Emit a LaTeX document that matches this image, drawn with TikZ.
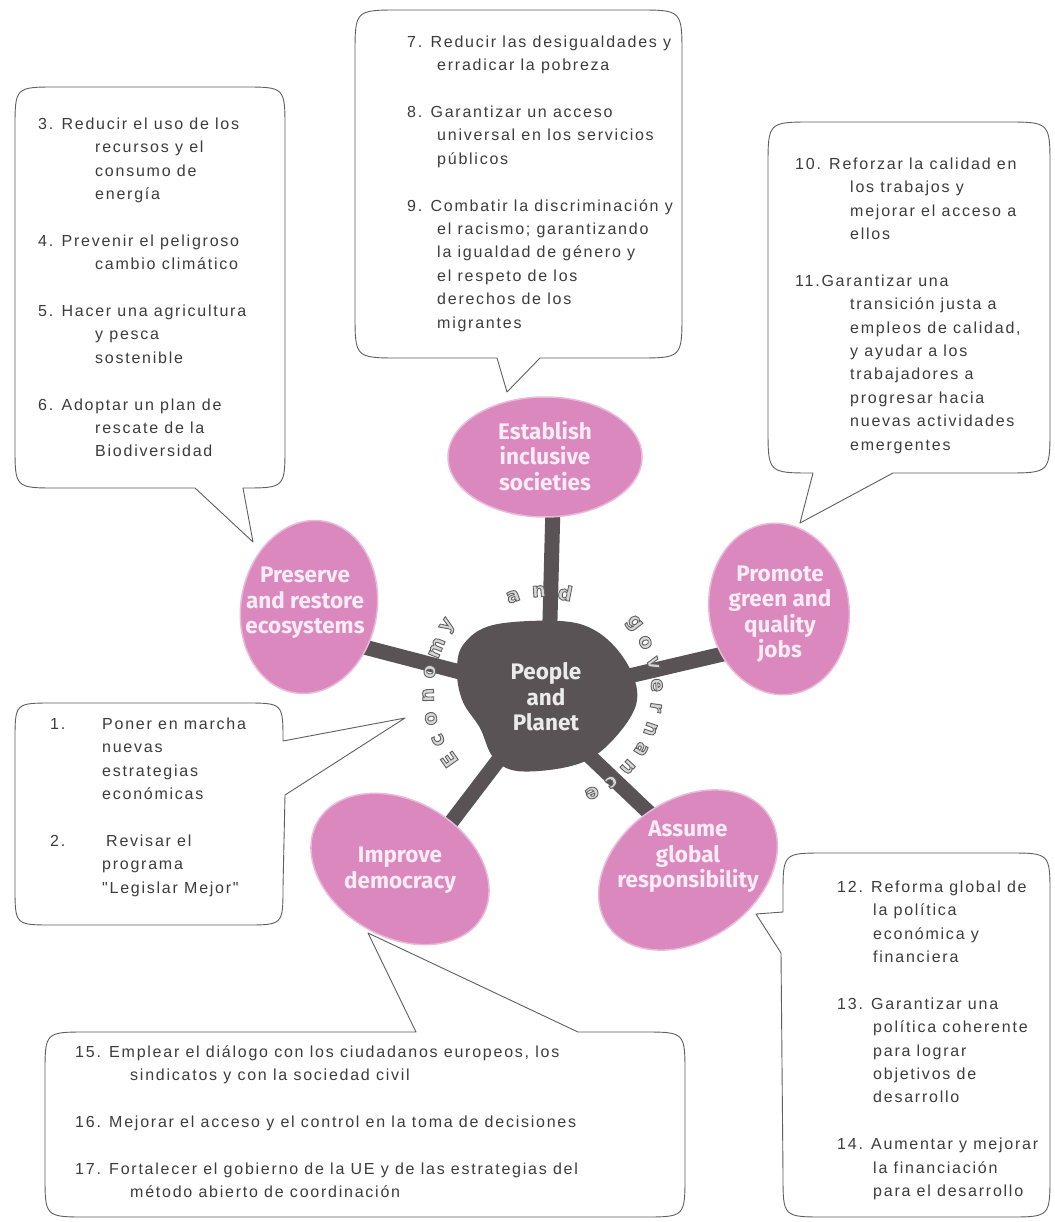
\documentclass[tikz,border=0pt]{standalone}
\usepackage{fontspec}
\setmainfont{Liberation Sans}
\newfontfamily\bubfont{Liberation Sans}[LetterSpace=11]
\newfontfamily\ellfont{Fira Sans}
\newfontfamily\arcfont{DejaVu Sans}
\usetikzlibrary{shapes.geometric,calc}

\definecolor{ellpink}{RGB}{218,136,190}
\definecolor{ellrim}{RGB}{234,184,216}
\definecolor{blobgray}{RGB}{90,83,85}
\definecolor{elltxt}{RGB}{250,236,245}
\definecolor{bubline}{RGB}{95,95,95}
\definecolor{bubtxt}{RGB}{60,60,60}
\definecolor{arcfill}{RGB}{215,215,215}

\newcommand\arcstyle{\arcfont\bfseries\fontsize{20}{24}\selectfont}
\newcommand\outlined[1]{\special{pdf:literal direct 2 Tr 0.9 w 0.38 0.38 0.38 RG}#1\special{pdf:literal direct 0 Tr}}

\tikzset{
  bubble/.style={draw=bubline, line width=0.9pt, fill=white, line join=round},
  bubtext/.style={anchor=north west, inner sep=0pt, align=left, text=bubtxt,
    font=\bubfont\fontsize{16}{23.4}\selectfont},
  ellshape/.style={ellipse, fill=ellpink, draw=ellrim, line width=1.5pt, inner sep=0pt},
  elltext/.style={text=elltxt, font=\ellfont\bfseries\fontsize{22.5}{25.5}\selectfont,
    align=center, inner sep=0pt},
  ray/.style={draw=blobgray, line width=15pt},
  arcletter/.style={inner sep=0pt, text=arcfill, font=\arcstyle},
}

\begin{document}
\begin{tikzpicture}[x=1pt,y=-1pt]
\useasboundingbox (0,0) rectangle (1054,1222);
\fill[white] (0,0) rectangle (1054,1222);

% ---------------- callout bubbles ----------------
% A : items 3-6
\draw[bubble] (285,129) -- (285,446) .. controls (285,488) .. (243,488)
  -- (253,542) -- (195,488) -- (57,488) .. controls (15,488) .. (15,446)
  -- (15,129) .. controls (15,87) .. (57,87) -- (243,87) .. controls (285,87) .. (285,129) -- cycle;
% B : items 7-9
\draw[bubble] (682,55) -- (682,313) .. controls (682,358) .. (637,358)
  -- (540,358) -- (507,392) -- (497,358) -- (400,358) .. controls (355,358) .. (355,313)
  -- (355,55) .. controls (355,10) .. (400,10) -- (637,10) .. controls (682,10) .. (682,55) -- cycle;
% C : items 10-11
\draw[bubble] (1050,167) -- (1050,428) .. controls (1050,473) .. (1005,473)
  -- (893,473) -- (800,523) -- (813,473) .. controls (768,473) .. (768,428)
  -- (768,167) .. controls (768,122) .. (813,122) -- (1005,122) .. controls (1050,122) .. (1050,167) -- cycle;
% D : items 1-2
\draw[bubble] (53,703) -- (245,703) .. controls (283,703) .. (283,741)
  -- (405,718) -- (285,795) -- (283,887) .. controls (283,925) .. (245,925)
  -- (53,925) .. controls (15,925) .. (15,887) -- (15,741) .. controls (15,703) .. (53,703) -- cycle;
% E : items 12-14
\draw[bubble] (825,853) -- (1008,853) .. controls (1050,853) .. (1050,895)
  -- (1050,1175) .. controls (1050,1217) .. (1008,1217) -- (825,1217) .. controls (783,1217) .. (783,1175)
  -- (781,953) -- (756,914) -- (783,912) -- (783,895) .. controls (783,853) .. (825,853) -- cycle;
% F : items 15-17
\draw[bubble] (87,1032) -- (416,1032) -- (368,933) -- (578,1032) -- (643,1032) .. controls (685,1032) .. (685,1074)
  -- (685,1175) .. controls (685,1217) .. (643,1217) -- (87,1217) .. controls (45,1217) .. (45,1175)
  -- (45,1074) .. controls (45,1032) .. (87,1032) -- cycle;

% ---------------- bubble texts ----------------
\node[bubtext] (tA) at (38,117.5) {3. Reducir el uso de los\\
\hspace*{57pt}recursos y el\\
\hspace*{57pt}consumo de\\
\hspace*{57pt}energía\\[23.4pt]
4. Prevenir el peligroso\\
\hspace*{57pt}cambio climático\\[23.4pt]
5. Hacer una agricultura\\
\hspace*{57pt}y pesca\\
\hspace*{57pt}sostenible\\[23.4pt]
6. Adoptar un plan de\\
\hspace*{57pt}rescate de la\\
\hspace*{57pt}Biodiversidad};

\node[bubtext] (tB) at (407,35.5) {7. Reducir las desigualdades y\\
\hspace*{30pt}erradicar la pobreza\\[23.4pt]
8. Garantizar un acceso\\
\hspace*{30pt}universal en los servicios\\
\hspace*{30pt}públicos\\[23.4pt]
9. Combatir la discriminación y\\
\hspace*{30pt}el racismo; garantizando\\
\hspace*{30pt}la igualdad de género y\\
\hspace*{30pt}el respeto de los\\
\hspace*{30pt}derechos de los\\
\hspace*{30pt}migrantes};

\node[bubtext] (tC) at (795,157.5) {10. Reforzar la calidad en\\
\hspace*{55pt}los trabajos y\\
\hspace*{55pt}mejorar el acceso a\\
\hspace*{55pt}ellos\\[23.4pt]
11.Garantizar una\\
\hspace*{55pt}transición justa a\\
\hspace*{55pt}empleos de calidad,\\
\hspace*{55pt}y ayudar a los\\
\hspace*{55pt}trabajadores a\\
\hspace*{55pt}progresar hacia\\
\hspace*{55pt}nuevas actividades\\
\hspace*{55pt}emergentes};

\node[bubtext] (tD) at (50,717.5) {\makebox[52pt][l]{1.}Poner en marcha\\
\hspace*{52pt}nuevas\\
\hspace*{52pt}estrategias\\
\hspace*{52pt}económicas\\[23.4pt]
\makebox[56pt][l]{2.}Revisar el\\
\hspace*{52pt}programa\\
\hspace*{52pt}"Legislar Mejor"};

\node[bubtext] (tE) at (837,880.5) {12. Reforma global de\\
\hspace*{36pt}la política\\
\hspace*{36pt}económica y\\
\hspace*{36pt}financiera\\[23.4pt]
13. Garantizar una\\
\hspace*{36pt}política coherente\\
\hspace*{36pt}para lograr\\
\hspace*{36pt}objetivos de\\
\hspace*{36pt}desarrollo\\[23.4pt]
14. Aumentar y mejorar\\
\hspace*{36pt}la financiación\\
\hspace*{36pt}para el desarrollo};

\node[bubtext] (tF) at (75,1045.5) {15. Emplear el diálogo con los ciudadanos europeos, los\\
\hspace*{55pt}sindicatos y con la sociedad civil\\[23.4pt]
16. Mejorar el acceso y el control en la toma de decisiones\\[23.4pt]
17. Fortalecer el gobierno de la UE y de las estrategias del\\
\hspace*{55pt}método abierto de coordinación};

% ---------------- rays ----------------
\coordinate (hub) at (548,695);
\coordinate (hubB) at (560,728);
\coordinate (est-r) at (553,505);
\coordinate (pre-r) at (345,642);
\coordinate (pro-r) at (740,650);
\coordinate (imp-r) at (436,842);
\coordinate (ass-r) at (662,825);
\draw[ray] (est-r) -- (hub);
\draw[ray] (pre-r) -- (hub);
\draw[ray] (pro-r) -- (hub);
\draw[ray] (imp-r) -- (hub);
\draw[ray] (ass-r) -- (hubB);

% ---------------- central blob ----------------
\fill[blobgray] plot[smooth cycle, tension=0.6] coordinates {(457,673) (463,645) (493,625) (560,621) (596,631) (623,657) (637,690) (630,718) (600,752) (567,767) (517,771) (493,757) (480,728) (463,702)};

% ---------------- ellipses ----------------
\node[ellshape, minimum width=194pt, minimum height=120pt] (est) at (545,457) {};
\node[ellshape, minimum width=136pt, minimum height=174pt, rotate=-10] (pre) at (309,607) {};
\node[ellshape, minimum width=140pt, minimum height=172pt, rotate=8] (pro) at (779,609) {};
\node[ellshape, minimum width=190pt, minimum height=136pt, rotate=-30] (imp) at (400,869) {};
\node[ellshape, minimum width=195pt, minimum height=140pt, rotate=35] (ass) at (688,870) {};

\node[elltext] (est-t) at (545,456) {Establish\\inclusive\\societies};
\node[elltext] (pre-t) at (305,603) {Preserve\\and restore\\ecosystems};
\node[elltext] (pro-t) at (780,614) {Promote\\green and\\quality\\jobs};
\node[elltext] (imp-t) at (400,870) {Improve\\democracy};
\node[elltext] (ass-t) at (688,857) {Assume\\global\\responsibility};
\node[elltext, text=white!92!black] (ppl) at (546,697) {People\\and\\Planet};

% ---------------- curved words (letter by letter) ----------------
\coordinate (cen) at (546,692);
\foreach \ch/\ang [count=\i] in {a/109,n/94,d/79}
  \node[arcletter, rotate=\ang-90] (and-\i) at ($(cen)+(-\ang:101)$) {\outlined{\ch}};
\foreach \ch/\ang [count=\i] in {g/38,o/26.5,v/15,e/3.5,r/-8,n/-19.5,a/-31,n/-42.5,c/-54,e/-65.5}
  \node[arcletter, rotate=\ang-90] (gov-\i) at ($(cen)+(-\ang:111)$) {\outlined{\ch}};
\foreach \ch/\ang [count=\i] in {E/215,c/204,o/193,n/181.5,o/170,m/158,y/146}
  \node[arcletter, rotate=\ang-90] (eco-\i) at ($(cen)+(-\ang:118)$) {\outlined{\ch}};

\end{tikzpicture}
\end{document}
